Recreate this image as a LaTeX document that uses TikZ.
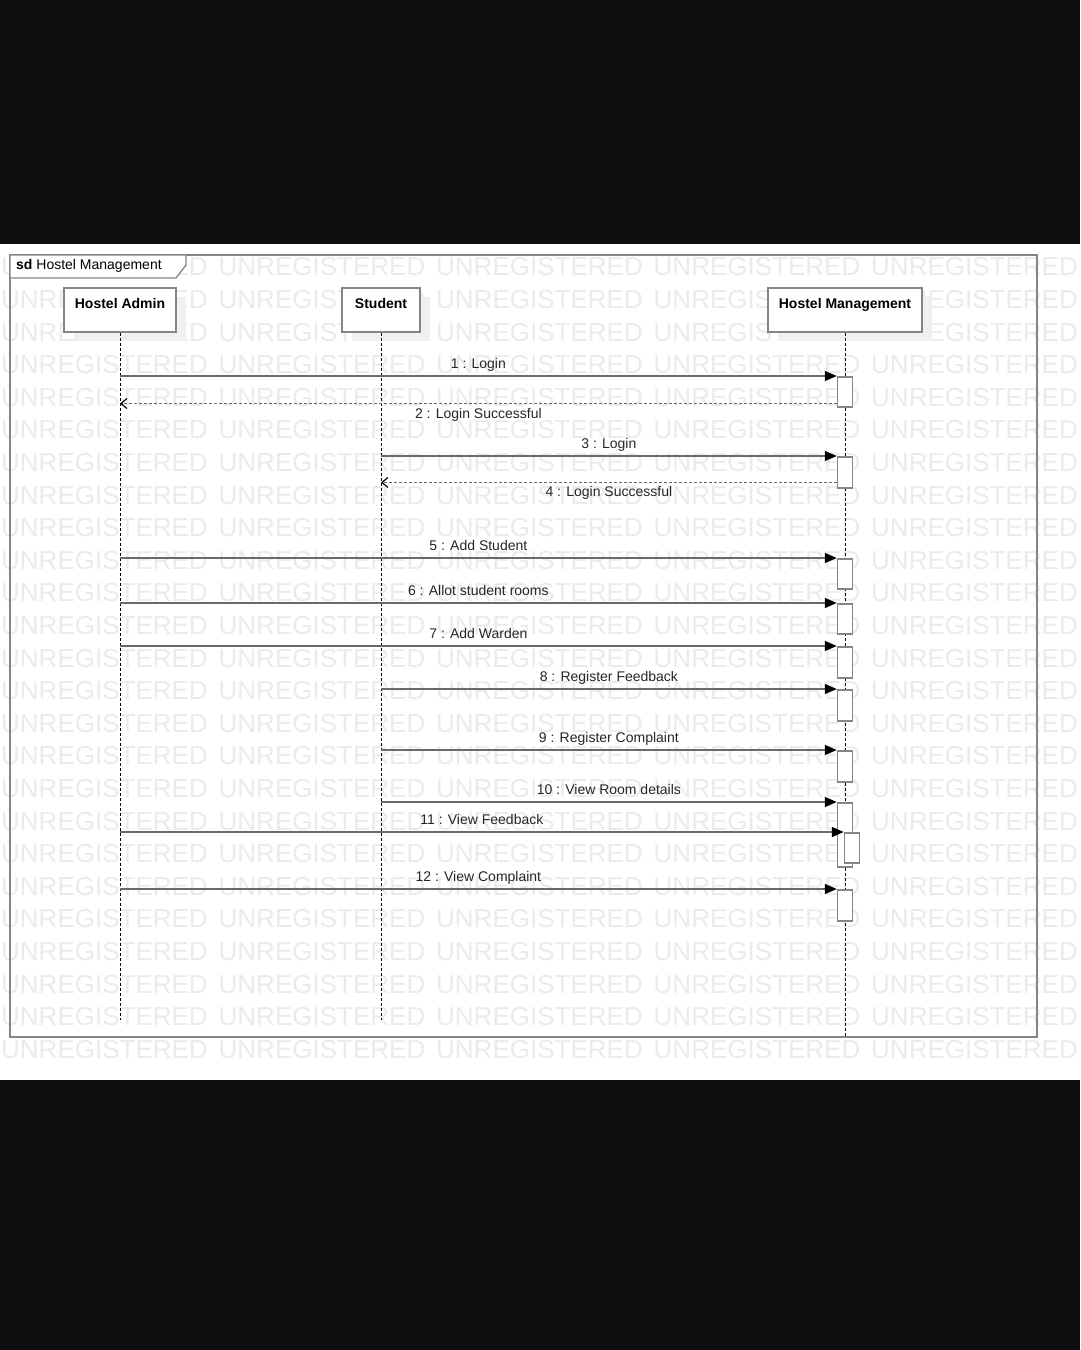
\documentclass[tikz,border=0pt]{standalone}
\usepackage{fontspec}
\setmainfont{Liberation Sans}
\usetikzlibrary{arrows.meta,shadows}
\definecolor{wmgray}{HTML}{EBEBEB}
\definecolor{linegray}{HTML}{6A6A6A}
\definecolor{boxgray}{HTML}{858585}
\definecolor{barblack}{HTML}{0E0E0E}
\tikzset{
  wmark/.style={anchor=west, inner sep=0pt, text=wmgray, font=\fontsize{26}{26}\selectfont},
  headbox/.style={draw=boxgray, line width=1.5pt, fill=white, minimum height=44pt, inner xsep=0pt, inner ysep=3pt, text height=17pt, text depth=21pt, font=\fontsize{14}{15}\selectfont\bfseries, drop shadow={shadow xshift=10pt, shadow yshift=-9pt, fill=black!6, opacity=1}},
  actbox/.style={draw=boxgray, line width=1.5pt, fill=white, minimum width=15pt, inner sep=0pt, anchor=north},
  lifeline/.style={line width=0.9pt, dash pattern=on 3pt off 2pt},
  msg/.style={draw=linegray, line width=1.6pt, -{Triangle[length=12pt,width=10pt,color=black]}},
  reply/.style={draw=linegray, line width=1.2pt, dash pattern=on 3pt off 2pt, -{Straight Barb[length=6pt,width=10pt,color=black]}},
  msglabel/.style={font=\fontsize{14}{15}\selectfont, text=black!85, inner sep=0pt, text height=10pt, text depth=3pt},
}
\begin{document}
\begin{tikzpicture}[x=1pt,y=-1pt]
\useasboundingbox (0,0) rectangle (1080,1350);
\fill[barblack] (0,0) rectangle (1080,1350);
\fill[white] (0,244) rectangle (1080,1080);
\foreach \r in {0,...,24}
  \foreach \c in {0,...,4}
    \node[wmark] (w\r-\c) at ({1+217.5*\c},{267+32.6*\r}) {UNREGISTERED};
\draw[boxgray, line width=2pt] (10,255) rectangle (1037,1037);
\draw[boxgray, line width=1.3pt, fill=white] (10,255) -- (186,255) -- (186,265) -- (176,278) -- (10,278) -- cycle;
\node[anchor=west, inner sep=0pt, font=\fontsize{14}{15}\selectfont] (sdtitle) at (16,266) {\textbf{sd} Hostel Management};
\node[headbox, minimum width=112pt] (admin) at (120,310) {Hostel Admin};
\node[headbox, minimum width=78pt] (student) at (381,310) {Student};
\node[headbox, minimum width=154pt] (hms) at (845,310) {Hostel Management};
\coordinate (adminEnd) at (admin.south |- 0,1020);
\coordinate (studentEnd) at (student.south |- 0,1020);
\coordinate (hmsEnd) at (hms.south |- 0,1036);
\draw[lifeline] (admin.south) -- (adminEnd);
\draw[lifeline] (student.south) -- (studentEnd);
\draw[lifeline] (hms.south) -- (hmsEnd);
\node[actbox, minimum height=30pt] (act1) at (845,376) {};
\node[actbox, minimum height=31pt] (act2) at (845,456) {};
\node[actbox, minimum height=30pt] (act3) at (845,558) {};
\node[actbox, minimum height=30pt] (act4) at (845,603) {};
\node[actbox, minimum height=31pt] (act5) at (845,646) {};
\node[actbox, minimum height=31pt] (act6) at (845,689) {};
\node[actbox, minimum height=31pt] (act7) at (845,750) {};
\node[actbox, minimum height=64pt] (act8) at (845,802) {};
\node[actbox, minimum height=30pt] (act9) at (852,832) {};
\node[actbox, minimum height=31pt] (act10) at (845,889) {};
\coordinate (ret2) at ([yshift=4pt]act1.south west);
\coordinate (ret4) at ([yshift=6pt]act2.south west);
\draw[msg] (act1.north west -| admin) -- (act1.north west) node[msglabel, midway, yshift=11.5pt] (m1) {1 : Login};
\draw[reply] (ret2) -- (ret2 -| admin) node[msglabel, midway, yshift=-11pt] (m2) {2 : Login Successful};
\draw[msg] (act2.north west -| student) -- (act2.north west) node[msglabel, midway, yshift=11.5pt] (m3) {3 : Login};
\draw[reply] (ret4) -- (ret4 -| student) node[msglabel, midway, yshift=-10pt] (m4) {4 : Login Successful};
\draw[msg] (act3.north west -| admin) -- (act3.north west) node[msglabel, midway, yshift=11.5pt] (m5) {5 : Add Student};
\draw[msg] (act4.north west -| admin) -- (act4.north west) node[msglabel, midway, yshift=11.5pt] (m6) {6 : Allot student rooms};
\draw[msg] (act5.north west -| admin) -- (act5.north west) node[msglabel, midway, yshift=11.5pt] (m7) {7 : Add Warden};
\draw[msg] (act6.north west -| student) -- (act6.north west) node[msglabel, midway, yshift=11.5pt] (m8) {8 : Register Feedback};
\draw[msg] (act7.north west -| student) -- (act7.north west) node[msglabel, midway, yshift=11.5pt] (m9) {9 : Register Complaint};
\draw[msg] (act8.north west -| student) -- (act8.north west) node[msglabel, midway, yshift=11.5pt] (m10) {10 : View Room details};
\draw[msg] (act9.north west -| admin) -- (act9.north west) node[msglabel, midway, yshift=11.5pt] (m11) {11 : View Feedback};
\draw[msg] (act10.north west -| admin) -- (act10.north west) node[msglabel, midway, yshift=11.5pt] (m12) {12 : View Complaint};
\end{tikzpicture}
\end{document}
